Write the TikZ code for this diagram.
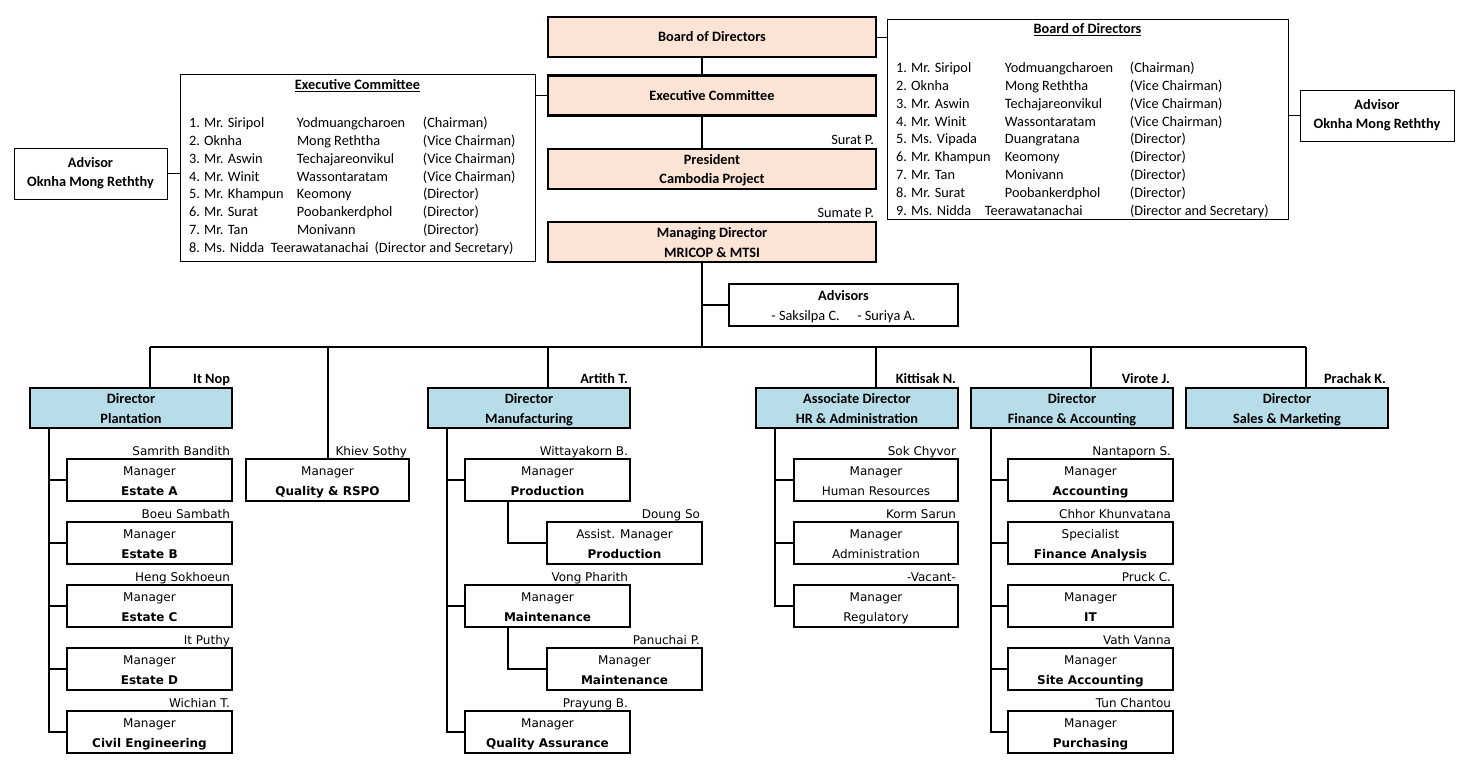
\documentclass[tikz,border=0pt]{standalone}
\usepackage{fontspec}
\setmainfont{Carlito}
\newfontfamily\tah{DejaVu Sans}
\definecolor{peach}{HTML}{FBE3D5}
\definecolor{lblue}{HTML}{B7DDE8}
\begin{document}
\begin{tikzpicture}[x=1pt,y=-1pt,
 every node/.style={inner sep=0pt, outer sep=0pt},
 twoA/.style={text height=33pt, text depth=2pt},
 twoB/.style={text height=32pt, text depth=2pt},
 topbox/.style={draw, line width=2.2pt, fill=peach, minimum width=328pt, minimum height=40pt, font=\fontsize{14.3}{20}\selectfont\bfseries, align=center},
 dirbox/.style={twoB, draw, line width=2.2pt, fill=lblue, minimum height=40pt, font=\fontsize{14.3}{20}\selectfont\bfseries, align=center},
 mgrbox/.style={twoA, draw, line width=2.2pt, fill=white, minimum width=165pt, minimum height=42pt, font=\tah\fontsize{12}{20}\selectfont, align=center},
 advbox/.style={draw, line width=0.8pt, fill=white, font=\fontsize{14.3}{19}\selectfont\bfseries, align=center},
 listbox/.style={draw, line width=0.8pt},
 conn/.style={line width=2pt},
 thinconn/.style={line width=0.8pt},
 nm/.style={anchor=base east, font=\tah\fontsize{12}{13}\selectfont},
 nmb/.style={anchor=base east, font=\fontsize{14.3}{15}\selectfont\bfseries},
 nmr/.style={anchor=base east, font=\fontsize{14.3}{15}\selectfont},
 listtxt/.style={anchor=north west, font=\fontsize{14.3}{17.85}\selectfont},
 ttl/.style={font=\fontsize{14.3}{15}\selectfont\bfseries},
]
\useasboundingbox (0,0) rectangle (1460,773);

% ---------- top chain ----------
\node[topbox] (bod) at (712,37) {Board of Directors};
\node[topbox] (ec) at (712,95.5) {Executive Committee};
\node[topbox, twoB] (pres) at (712,169) {President\\Cambodia Project};
\node[topbox, twoB] (md) at (712,242) {Managing Director\\MRICOP \& MTSI};
\node[nmr] (suratlbl) at (874,145) {Surat P.};
\node[nmr] (sumatelbl) at (874,217) {Sumate P.};
\coordinate (spine) at (702,0);
\draw[conn] (spine |- bod.south) -- (spine |- ec.north);
\draw[conn] (spine |- ec.south) -- (spine |- pres.north);

% ---------- Executive committee list ----------
\node[listbox, minimum width=355pt, minimum height=187pt] (eclist) at (357.5,167.5) {};
\node[ttl] (ectitle) at (357.5,86) {\underline{Executive Committee}};
\node[listtxt] (ectext) at (189,115) {%
\begin{tabular}{@{}p{108pt}@{}p{126pt}@{}l@{}}
1. Mr. Siripol & Yodmuangcharoen & (Chairman)\\
2. Oknha & Mong Reththa & (Vice Chairman)\\
3. Mr. Aswin & Techajareonvikul & (Vice Chairman)\\
4. Mr. Winit & Wassontaratam & (Vice Chairman)\\
5. Mr. Khampun & Keomony & (Director)\\
6. Mr. Surat & Poobankerdphol & (Director)\\
7. Mr. Tan & Monivann & (Director)\\
8. Ms. Nidda & \multicolumn{2}{@{}l@{}}{\hspace{-26pt}Teerawatanachai\hspace{6pt}(Director and Secretary)}\\
\end{tabular}};
\draw[thinconn] (ec.west) -- (eclist.east |- ec.west);

\node[advbox, minimum width=153pt, minimum height=51pt] (advl) at (90.5,173.5) {Advisor\\Oknha Mong Reththy};
\draw[thinconn] (advl.east) -- (eclist.west |- advl.east);

% ---------- Board list ----------
\node[listbox, minimum width=401pt, minimum height=200pt] (bodlist) at (1087.5,119) {};
\node[ttl] (bodtitle) at (1087.5,30) {\underline{Board of Directors}};
\node[listtxt] (bodtext) at (896,60) {%
\begin{tabular}{@{}p{109pt}@{}p{125pt}@{}l@{}}
1. Mr. Siripol & Yodmuangcharoen & (Chairman)\\
2. Oknha & Mong Reththa & (Vice Chairman)\\
3. Mr. Aswin & Techajareonvikul & (Vice Chairman)\\
4. Mr. Winit & Wassontaratam & (Vice Chairman)\\
5. Ms. Vipada & Duangratana & (Director)\\
6. Mr. Khampun & Keomony & (Director)\\
7. Mr. Tan & Monivann & (Director)\\
8. Mr. Surat & Poobankerdphol & (Director)\\
9. Ms. Nidda & \hspace{-20pt}Teerawatanachai & (Director and Secretary)\\
\end{tabular}};
\draw[thinconn] (bod.east) -- (bodlist.west |- bod.east);

\node[advbox, minimum width=154pt, minimum height=51pt] (advr) at (1377,115.5) {Advisor\\Oknha Mong Reththy};
\draw[thinconn] (bodlist.east |- advr.west) -- (advr.west);

% ---------- Advisors ----------
\node[twoB, draw, line width=2.2pt, minimum width=229pt, minimum height=42pt, align=center, font=\fontsize{14.3}{20}\selectfont] (advs) at (843.5,305) {\textbf{Advisors}\\- Saksilpa C.\quad\ - Suriya A.};
\coordinate (bus) at (702,347);
\draw[conn] (spine |- md.south) -- (bus);
\draw[conn] (spine |- advs.west) -- (advs.west);

% ---------- Directors ----------
\node[dirbox, minimum width=202pt] (dpl) at (131,408) {Director\\Plantation};
\node[dirbox, minimum width=202pt] (dmf) at (529,408) {Director\\Manufacturing};
\node[dirbox, minimum width=202pt] (dhr) at (857,408) {Associate Director\\HR \& Administration};
\node[dirbox, minimum width=202pt] (dfa) at (1072,408) {Director\\Finance \& Accounting};
\node[dirbox, minimum width=202pt] (dsm) at (1287,408) {Director\\Sales \& Marketing};
\node[nmb] (n1) at (230,383) {It Nop};
\node[nmb] (n2) at (628,383) {Artith T.};
\node[nmb] (n3) at (956,383) {Kittisak N.};
\node[nmb] (n4) at (1170,383) {Virote J.};
\node[nmb] (n5) at (1386,383) {Prachak K.};

\node[mgrbox, minimum width=163pt] (qr) at (327.5,480) {Manager\\\textbf{Quality \& RSPO}};
\node[nm] (nqr) at (407,455) {Khiev Sothy};

% bus and drops
\coordinate (bl) at (150,347);
\coordinate (br) at (1306,347);
\draw[conn] (bl) -- (br);
\draw[conn] (bl) -- (bl |- dpl.north);
\draw[conn] (327.5,347) -- (qr.north);
\draw[conn] (548,347) -- (548,388);
\draw[conn] (876,347) -- (876,388);
\draw[conn] (1091,347) -- (1091,388);
\draw[conn] (br) -- (br |- dsm.north);

% ---------- Plantation column ----------
\node[mgrbox] (ea) at (149.5,480) {Manager\\\textbf{Estate A}};
\node[mgrbox] (eb) at (149.5,543) {Manager\\\textbf{Estate B}};
\node[mgrbox] (ecc) at (149.5,606) {Manager\\\textbf{Estate C}};
\node[mgrbox] (ed) at (149.5,669) {Manager\\\textbf{Estate D}};
\node[mgrbox] (ce) at (149.5,732) {Manager\\\textbf{Civil Engineering}};
\node[nm] at (230,455) {Samrith Bandith};
\node[nm] at (230,518) {Boeu Sambath};
\node[nm] at (230,581) {Heng Sokhoeun};
\node[nm] at (230,644) {It Puthy};
\node[nm] at (230,707) {Wichian T.};
\coordinate (pl) at (49,428);
\draw[conn] (pl) -- (pl |- ce.west) -- (ce.west);
\foreach \b in {ea,eb,ecc,ed} \draw[conn] (pl |- \b.west) -- (\b.west);

% ---------- Manufacturing column ----------
\node[mgrbox] (pro) at (547.5,480) {Manager\\\textbf{Production}};
\node[mgrbox, minimum width=155pt] (apro) at (624.5,543) {Assist. Manager\\\textbf{Production}};
\node[mgrbox] (mai) at (547.5,606) {Manager\\\textbf{Maintenance}};
\node[mgrbox, minimum width=155pt] (mai2) at (624.5,669) {Manager\\\textbf{Maintenance}};
\node[mgrbox] (qa) at (547.5,732) {Manager\\\textbf{Quality Assurance}};
\node[nm] at (628,455) {Wittayakorn B.};
\node[nm] at (700,518) {Doung So};
\node[nm] at (628,581) {Vong Pharith};
\node[nm] at (700,644) {Panuchai P.};
\node[nm] at (628,707) {Prayung B.};
\coordinate (mf) at (447,428);
\draw[conn] (mf) -- (mf |- qa.west) -- (qa.west);
\foreach \b in {pro,mai} \draw[conn] (mf |- \b.west) -- (\b.west);
\draw[conn] (508,501) -- (508,543) -- (apro.west);
\draw[conn] (508,627) -- (508,669) -- (mai2.west);

% ---------- HR column ----------
\node[mgrbox, minimum width=164pt] (hr) at (876,480) {Manager\\Human Resources};
\node[mgrbox, minimum width=164pt] (adm) at (876,543) {Manager\\Administration};
\node[mgrbox, minimum width=164pt] (reg) at (876,606) {Manager\\Regulatory};
\node[nm] at (956,455) {Sok Chyvor};
\node[nm] at (956,518) {Korm Sarun};
\node[nm] at (956,581) {-Vacant-};
\coordinate (hc) at (775,428);
\draw[conn] (hc) -- (hc |- reg.west) -- (reg.west);
\foreach \b in {hr,adm} \draw[conn] (hc |- \b.west) -- (\b.west);

% ---------- Finance column ----------
\node[mgrbox] (acc) at (1090.5,480) {Manager\\\textbf{Accounting}};
\node[mgrbox] (fan) at (1090.5,543) {Specialist\\\textbf{Finance Analysis}};
\node[mgrbox] (it) at (1090.5,606) {Manager\\\textbf{IT}};
\node[mgrbox] (sacc) at (1090.5,669) {Manager\\\textbf{Site Accounting}};
\node[mgrbox] (pur) at (1090.5,732) {Manager\\\textbf{Purchasing}};
\node[nm] at (1171,455) {Nantaporn S.};
\node[nm] at (1171,518) {Chhor Khunvatana};
\node[nm] at (1171,581) {Pruck C.};
\node[nm] at (1171,644) {Vath Vanna};
\node[nm] at (1171,707) {Tun Chantou};
\coordinate (fc) at (991,428);
\draw[conn] (fc) -- (fc |- pur.west) -- (pur.west);
\foreach \b in {acc,fan,it,sacc} \draw[conn] (fc |- \b.west) -- (\b.west);
\end{tikzpicture}
\end{document}
